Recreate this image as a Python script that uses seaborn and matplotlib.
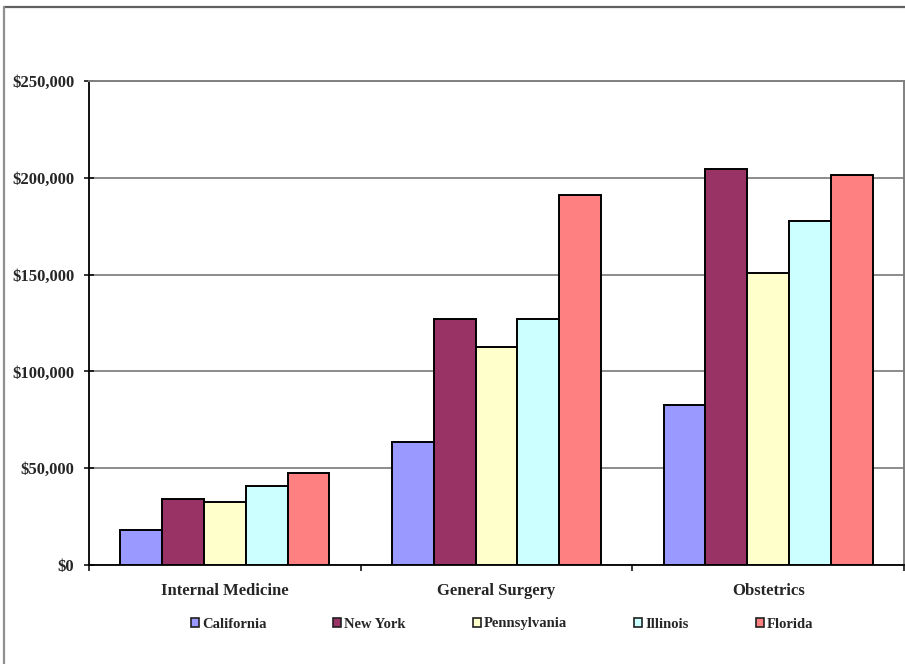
import matplotlib
matplotlib.use("Agg")
import matplotlib.pyplot as plt
from matplotlib.ticker import FuncFormatter, FixedLocator
from matplotlib.patches import Patch
from matplotlib.lines import Line2D
import seaborn as sns
import pandas as pd

specialties = ["Internal Medicine", "General Surgery", "Obstetrics"]
states = ["California", "New York", "Pennsylvania", "Illinois", "Florida"]
california = [18000, 63500, 82500]
new_york = [34000, 127000, 204500]
pennsylvania = [32700, 112400, 150700]
illinois = [41000, 127000, 177500]
florida = [47500, 191000, 201500]
colors = ["#9999FF", "#993366", "#FFFFCC", "#CCFFFF", "#FF8080"]

series = [california, new_york, pennsylvania, illinois, florida]
rows = []
for state, vals in zip(states, series):
    for spec, v in zip(specialties, vals):
        rows.append({"Specialty": spec, "State": state, "Premium": v})
df = pd.DataFrame(rows)

sns.set_style("white")
plt.rcParams["font.family"] = ["Liberation Serif", "DejaVu Serif"]
plt.rcParams["font.weight"] = "bold"

fig = plt.figure(figsize=(9.05, 6.64), dpi=100)
ax = fig.add_axes([89 / 905, 99 / 664, 815 / 905, 484 / 664])

sns.barplot(data=df, x="Specialty", y="Premium", hue="State",
            order=specialties, hue_order=states, palette=colors,
            width=0.77, gap=0, edgecolor="black", linewidth=1.4,
            saturation=1, errorbar=None, legend=False, ax=ax, zorder=3)

ax.set_xlim(-0.5, 2.5)
ax.set_ylim(0, 250000)
ax.set_xlabel("")
ax.set_ylabel("")

# horizontal gridlines
ax.yaxis.set_major_locator(FixedLocator([0, 50000, 100000, 150000, 200000, 250000]))
ax.yaxis.set_major_formatter(FuncFormatter(lambda v, p: "\\${:,.0f}".format(v)))
ax.grid(axis="y", color="#787878", linewidth=1.2, zorder=0)
ax.set_axisbelow(True)

# category separators as major ticks, names on minor ticks
ax.xaxis.set_major_locator(FixedLocator([-0.5, 0.5, 1.5, 2.5]))
ax.xaxis.set_major_formatter(FuncFormatter(lambda v, p: ""))
ax.xaxis.set_minor_locator(FixedLocator([0, 1, 2]))
ax.set_xticklabels(specialties, minor=True)
ax.tick_params(axis="x", which="major", direction="out", length=4, width=1.1, color="black", bottom=True)
ax.tick_params(axis="x", which="minor", length=0, pad=13, labelsize=12)
ax.tick_params(axis="y", direction="inout", length=7, width=1.1, color="black", left=True, pad=7, labelsize=12)
for lab in ax.get_xticklabels(minor=True) + ax.get_yticklabels():
    lab.set_fontweight("bold")

for side in ["left", "bottom"]:
    ax.spines[side].set_color("black")
    ax.spines[side].set_linewidth(1.3)
for side in ["top", "right"]:
    ax.spines[side].set_color("#808080")
    ax.spines[side].set_linewidth(1.4)

handles = [Patch(facecolor=c, edgecolor="#202020", linewidth=1.2) for c in colors]
fig.legend(handles, states, loc="center", bbox_to_anchor=(502 / 905, 1 - 624 / 664),
           ncol=5, frameon=False, handlelength=0.55, handleheight=0.55, handletextpad=0.2,
           columnspacing=4.6, prop={"family": "Liberation Serif", "weight": "bold", "size": 10.5})

# outer chart frame
fig.add_artist(Line2D([4 / 905, 1.0], [1 - 7 / 664, 1 - 7 / 664], transform=fig.transFigure,
                      color="#606060", linewidth=1.6))
fig.add_artist(Line2D([4 / 905, 4 / 905], [0.0, 1 - 7 / 664], transform=fig.transFigure,
                      color="#909090", linewidth=1.6))

fig.savefig("out.png", dpi=100, facecolor="white")
